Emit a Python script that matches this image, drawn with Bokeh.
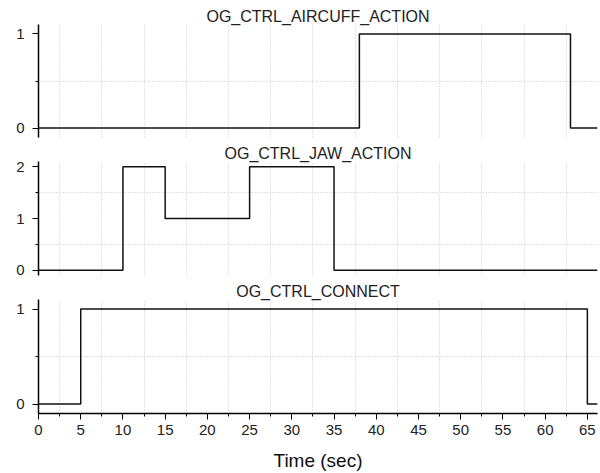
from bokeh.plotting import figure
from bokeh.layouts import column
from bokeh.models import SingleIntervalTicker, FixedTicker
from bokeh.embed import file_html
from bokeh.resources import INLINE

# ---- data (step signals: value holds from each time until the next) ----
aircuff_t = [0, 38, 63, 66.2]
aircuff_v = [0, 1, 0, 0]

jaw_t = [0, 10, 15, 25, 35, 66.2]
jaw_v = [0, 2, 1, 2, 0, 0]

connect_t = [0, 5, 65, 66.2]
connect_v = [0, 1, 0, 0]

titles = ["OG_CTRL_AIRCUFF_ACTION", "OG_CTRL_JAW_ACTION", "OG_CTRL_CONNECT"]
x_label = "Time (sec)"
x_tick_interval = 5
x_end = 66.2
FONT = "Liberation Sans"


def make_fig(title, t, v, ymax, height, top, bottom, show_x):
    p = figure(width=600, height=height, output_backend="svg", toolbar_location=None,
               x_range=(0, x_end), y_range=(-0.1, ymax + 0.1),
               x_axis_location="below" if show_x else None,
               min_border_left=38, min_border_right=3,
               min_border_top=top, min_border_bottom=bottom,
               title=title)
    p.outline_line_color = None
    p.background_fill_color = "white"
    p.border_fill_color = "white"
    p.title.align = "center"
    p.title.text_font = FONT
    p.title.text_font_size = "16px"
    p.title.text_font_style = "normal"
    p.title.text_color = "#222222"
    p.title.standoff = 0

    xt = SingleIntervalTicker(interval=x_tick_interval, num_minor_ticks=2)
    yt = SingleIntervalTicker(interval=1, num_minor_ticks=2)

    # dotted grid sits half-way between the labelled ticks
    half = x_tick_interval / 2
    n = int(x_end // x_tick_interval) + 1
    p.xgrid.ticker = FixedTicker(ticks=[half + i * x_tick_interval for i in range(n)
                                        if half + i * x_tick_interval < x_end])
    p.ygrid.ticker = FixedTicker(ticks=[k + 0.5 for k in range(ymax)])
    for g in (p.xgrid, p.ygrid):
        g.grid_line_color = "#c4c4c4"
        g.grid_line_dash = "1 2"
        g.grid_line_width = 1
        g.minor_grid_line_color = None

    ya = p.yaxis[0]
    ya.ticker = yt
    ya.axis_line_color = "black"
    ya.axis_line_width = 1.5
    ya.major_tick_out = 6
    ya.major_tick_in = 0
    ya.minor_tick_out = 3
    ya.minor_tick_in = 0
    ya.major_tick_line_color = "black"
    ya.minor_tick_line_color = "black"
    ya.major_label_text_font = FONT
    ya.major_label_text_font_size = "15px"
    ya.major_label_text_color = "#222222"
    ya.major_label_standoff = 8

    if show_x:
        xa = p.xaxis[0]
        xa.ticker = xt
        xa.axis_line_color = "black"
        xa.axis_line_width = 1.5
        xa.major_tick_out = 6
        xa.major_tick_in = 0
        xa.minor_tick_out = 3
        xa.minor_tick_in = 0
        xa.major_tick_line_color = "black"
        xa.minor_tick_line_color = "black"
        xa.major_label_text_font = FONT
        xa.major_label_text_font_size = "15px"
        xa.major_label_text_color = "#222222"
        xa.major_label_standoff = 5
        xa.axis_label = x_label
        xa.axis_label_text_font = FONT
        xa.axis_label_text_font_size = "19px"
        xa.axis_label_text_font_style = "normal"
        xa.axis_label_text_color = "#111111"
        xa.axis_label_standoff = 12

    p.step(t, v, mode="after", line_color="#111111", line_width=1.5)
    return p


p1 = make_fig(titles[0], aircuff_t, aircuff_v, 1, 142, 24, 5, False)
p2 = make_fig(titles[1], jaw_t, jaw_v, 2, 138, 0, 5, False)
p3 = make_fig(titles[2], connect_t, connect_v, 1, 193, 0, 57, True)

p = column(p1, p2, p3, spacing=0)
open("out.html", "w").write(file_html(p, INLINE))
